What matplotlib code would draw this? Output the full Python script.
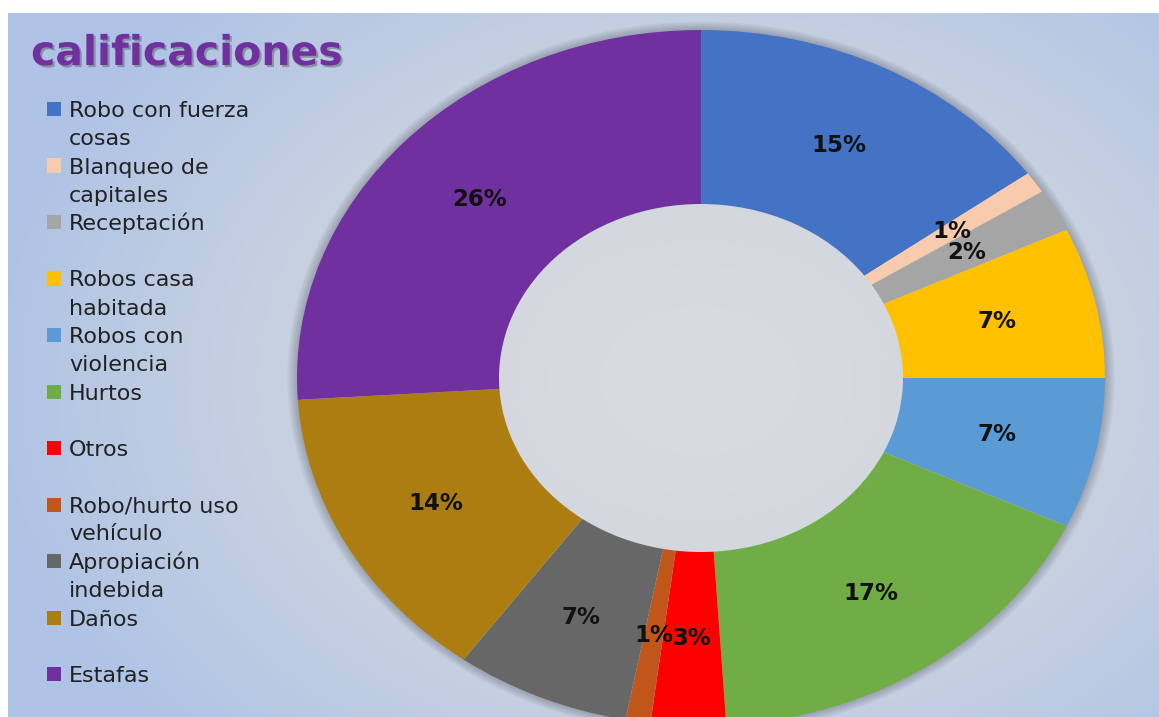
"""Donut chart: calificaciones"""
import numpy as np
import matplotlib
matplotlib.use('Agg')
import matplotlib.pyplot as plt
import matplotlib.patheffects as pe
from matplotlib.patches import Wedge, Rectangle

# Data
categories = ['Robo con fuerza\ncosas', 'Blanqueo de\ncapitales', 'Receptación',
              'Robos casa\nhabitada', 'Robos con\nviolencia', 'Hurtos', 'Otros',
              'Robo/hurto uso\nvehículo', 'Apropiación\nindebida', 'Daños', 'Estafas']
values = [15, 1, 2, 7, 7, 17, 3, 1, 7, 14, 26]
colors = ['#4472C4', '#F8CBAD', '#A5A5A5', '#FFC000', '#5B9BD5', '#70AD47',
          '#FF0000', '#C0561A', '#676767', '#AC7E12', '#7030A0']
title = 'calificaciones'

W, H = 1159, 717
fig = plt.figure(figsize=(W / 100, H / 100), dpi=100, facecolor='white')


def fx(px):
    return px / W


def fy(py):
    return 1 - py / H


# Background panel with radial gradient
bg = fig.add_axes([0, 0, 1, 1])
xx, yy = np.meshgrid(np.arange(8, W), np.arange(13, H))
t = np.sqrt(((xx - 700) / 720.0) ** 2 + ((yy - 380) / 540.0) ** 2)
t = np.clip(t, 0, 1) ** 1.6
gray = np.array([218, 219, 221]) / 255.0
blue = np.array([174, 195, 230]) / 255.0
img = gray[None, None, :] * (1 - t[..., None]) + blue[None, None, :] * t[..., None]
bg.imshow(img, extent=(8, W, H, 13), aspect='auto', interpolation='bilinear')
bg.set_xlim(0, W)
bg.set_ylim(H, 0)
bg.axis('off')

# Donut
cx, cy, rx, ry = 701, 378, 404, 348
ax = fig.add_axes([0, 0, 1, 1])
ax.patch.set_alpha(0)
# soft shadow ring around the outer edge
for k in range(1, 7):
    ax.add_patch(Wedge((0, 0), 1 + k * 0.004, 0, 360, width=k * 0.004 + 0.01,
                       facecolor='black', alpha=0.035, edgecolor='none', zorder=0))
wedges, _, autotexts = ax.pie(values, colors=colors, startangle=90, counterclock=False,
                              autopct=lambda p: f'{p:.0f}%', pctdistance=0.75,
                              wedgeprops=dict(width=0.5, linewidth=0),
                              textprops=dict(fontsize=16.5, fontweight='bold', color='#111111'))
for w in wedges:
    w.set_zorder(1)
for a in autotexts:
    a.set_zorder(3)
ax.set_aspect('auto')
ax.set_xlim(-cx / rx, (W - cx) / rx)
ax.set_ylim(-(H - cy) / ry, cy / ry)
ax.axis('off')

# Title
fig.text(fx(31), fy(65), title, fontsize=29.5, fontweight='bold', color='#7030A0',
         va='baseline', ha='left',
         path_effects=[pe.withSimplePatchShadow(offset=(1.5, -1.5), shadow_rgbFace='#555555',
                                                alpha=0.45)])

# Legend
for i, (lab, col) in enumerate(zip(categories, colors)):
    base = 117 + i * 56.5
    fig.patches.append(Rectangle((fx(47), fy(base - 1)), 14 / W, 14 / H, transform=fig.transFigure,
                                 facecolor=col, edgecolor='none'))
    for j, line in enumerate(lab.split('\n')):
        fig.text(fx(69), fy(base + j * 28), line, fontsize=16, color='#222222',
                 va='baseline', ha='left')

fig.savefig('out.png', dpi=100, facecolor='white')
